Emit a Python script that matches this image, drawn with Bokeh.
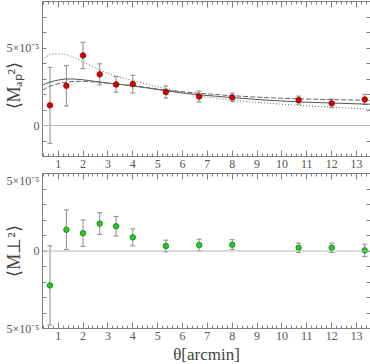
from bokeh.plotting import figure
from bokeh.layouts import column
from bokeh.models import (ColumnDataSource, Whisker, TeeHead, Range1d, LinearAxis,
                          FixedTicker, Span)
from bokeh.embed import file_html
from bokeh.resources import INLINE

# ---------------- data (values in units of 1e-5) ----------------
theta = [0.67, 1.33, 2.0, 2.67, 3.33, 4.0, 5.33, 6.67, 8.0, 10.67, 12.0, 13.33]
map_val = [1.30, 2.56, 4.52, 3.30, 2.65, 2.67, 2.16, 1.87, 1.81, 1.64, 1.43, 1.68]
map_err = [2.45, 1.30, 0.85, 0.68, 0.50, 0.57, 0.39, 0.35, 0.28, 0.26, 0.28, 0.33]
mperp_val = [-2.22, 1.37, 1.15, 1.77, 1.60, 0.88, 0.32, 0.38, 0.41, 0.21, 0.21, 0.04]
mperp_err = [2.55, 1.28, 0.85, 0.70, 0.63, 0.55, 0.38, 0.38, 0.32, 0.30, 0.30, 0.40]

model_theta = [0.37, 0.5, 0.67, 0.85, 1.0, 1.2, 1.33, 1.6, 2.0, 2.33, 2.67, 3.0, 3.33,
               4.0, 4.67, 5.33, 6.0, 6.67, 8.0, 9.33, 10.67, 12.0, 13.56]
model_dotted = [4.20, 4.42, 4.56, 4.62, 4.62, 4.60, 4.57, 4.42, 4.10, 3.85, 3.60, 3.38, 3.18,
                2.90, 2.62, 2.38, 2.12, 1.90, 1.62, 1.45, 1.30, 1.18, 1.05]
model_solid = [2.62, 2.70, 2.80, 2.88, 2.93, 2.98, 3.00, 3.00, 2.95, 2.88, 2.80, 2.74, 2.68,
               2.55, 2.40, 2.24, 2.10, 1.98, 1.80, 1.64, 1.52, 1.45, 1.37]
model_dashed = [2.28, 2.40, 2.52, 2.63, 2.70, 2.77, 2.80, 2.84, 2.85, 2.82, 2.78, 2.73, 2.68,
                2.57, 2.43, 2.28, 2.18, 2.08, 1.92, 1.80, 1.72, 1.67, 1.62]

x_ticks = list(range(1, 14))
x_minor = [round(0.2 * k, 1) for k in range(2, 68) if k % 5 != 0]

top_ylabel = "⟨Mₐₚ²⟩\u00a0\u00a0\u00a0"
bottom_ylabel = "⟨M⊥²⟩"
xlabel = "θ[arcmin]"

SERIF = "Liberation Serif"
AX = "#808080"
LBL = "#555555"


def style_axis(ax, show_labels, tick_in, minor_in):
    ax.axis_line_color = AX
    ax.major_tick_line_color = AX
    ax.minor_tick_line_color = AX
    ax.major_tick_in = tick_in
    ax.major_tick_out = 0
    ax.minor_tick_in = minor_in
    ax.minor_tick_out = 0
    ax.major_label_text_font = SERIF
    ax.major_label_text_color = LBL
    ax.major_label_text_font_size = "12px"
    ax.major_label_standoff = 3 if show_labels else 0
    ax.axis_label_text_font = SERIF
    ax.axis_label_text_font_style = "normal"
    ax.axis_label_text_color = "#444444"


def make_fig(ymin, ymax, yticks, ylabels, ylabel, xlabel_text, top_border, bottom_border):
    p = figure(frame_width=328, frame_height=155,
               x_range=Range1d(0.37, 13.56), y_range=Range1d(ymin, ymax),
               output_backend="svg", toolbar_location=None,
               x_axis_location=None, y_axis_location=None,
               min_border_left=41, min_border_right=1,
               min_border_top=top_border, min_border_bottom=bottom_border)
    p.grid.visible = False
    p.outline_line_color = AX
    p.background_fill_color = "white"
    p.border_fill_color = "white"
    for loc, lab in (("below", True), ("above", False)):
        ax = LinearAxis(ticker=FixedTicker(ticks=x_ticks, minor_ticks=x_minor))
        style_axis(ax, lab, 6, 3)
        if not lab:
            ax.major_label_overrides = {t: "" for t in x_ticks}
        elif xlabel_text:
            ax.axis_label = xlabel_text
            ax.axis_label_standoff = 2
            ax.axis_label_text_font_size = "17px"
        p.add_layout(ax, loc)
    for loc, lab in (("left", True), ("right", False)):
        ax = LinearAxis(ticker=FixedTicker(ticks=yticks, minor_ticks=[]))
        style_axis(ax, lab, 4, 0)
        ov = {t: "" for t in yticks}
        if lab:
            ov.update(ylabels)
            ax.axis_label = ylabel
            ax.axis_label_standoff = -20
            ax.axis_label_text_font_size = "18px"
        ax.major_label_overrides = ov
        p.add_layout(ax, loc)
    p.add_layout(Span(location=0, dimension="width", line_color="#b8b8b8", line_width=1))
    return p


def add_points(p, vals, errs, color, edge):
    src = ColumnDataSource(dict(x=theta, y=vals,
                                lo=[v - e for v, e in zip(vals, errs)],
                                hi=[v + e for v, e in zip(vals, errs)]))
    p.add_layout(Whisker(base="x", upper="hi", lower="lo", source=src, dimension="height",
                         line_color="#8a8a8a", line_width=1,
                         upper_head=TeeHead(size=5, line_color="#8a8a8a", line_width=1),
                         lower_head=TeeHead(size=5, line_color="#8a8a8a", line_width=1)))
    p.scatter("x", "y", source=src, size=5.5, fill_color=color, line_color=edge, line_width=0.8)


# ---------------- top panel ----------------
p1 = make_fig(-2, 8, list(range(-2, 9)), {0: "0", 5: "5×10⁻⁵"}, top_ylabel, None, 1, 17)
p1.line(model_theta, model_dotted, line_color="#666666", line_width=1, line_dash="1 2")
p1.line(model_theta, model_solid, line_color="#555555", line_width=1)
p1.line(model_theta, model_dashed, line_color="#666666", line_width=1, line_dash="5 2")
add_points(p1, map_val, map_err, "#dd0000", "#770000")

# ---------------- bottom panel ----------------
p2 = make_fig(-5, 5, list(range(-5, 6)), {-5: "5×10⁻⁵", 0: "0", 5: "5×10⁻⁵"},
              bottom_ylabel, xlabel, 0, 36)
add_points(p2, mperp_val, mperp_err, "#22cc22", "#117711")

layout = column(p1, p2, spacing=0)
open("out.html", "w").write(file_html(layout, INLINE))
